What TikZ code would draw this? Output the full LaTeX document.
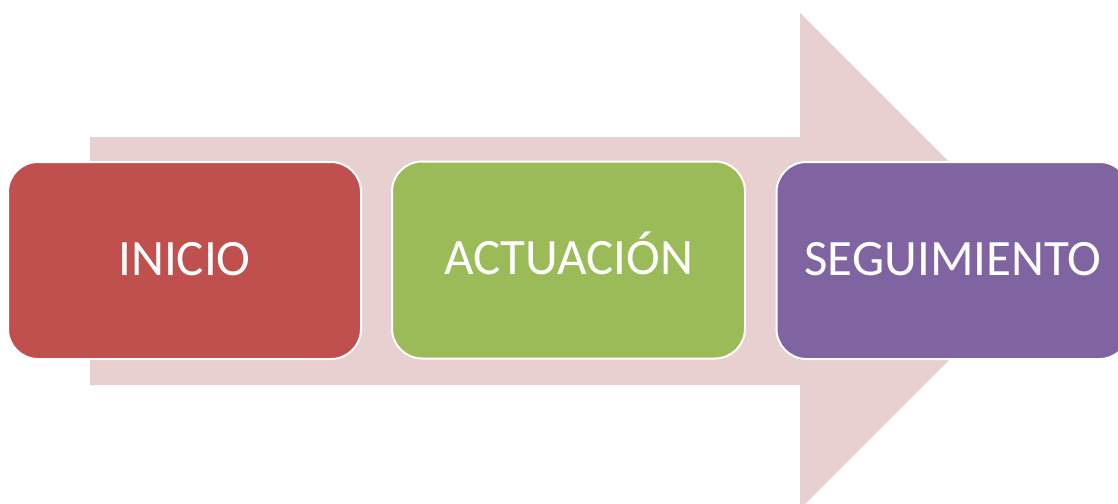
\documentclass[tikz,border=0pt]{standalone}
\usepackage{fontspec}
\setmainfont{Carlito}
\definecolor{arrowpink}{HTML}{E8D0D1}
\definecolor{boxred}{HTML}{C0504D}
\definecolor{boxgreen}{HTML}{9BBB59}
\definecolor{boxpurple}{HTML}{8064A2}
\tikzset{
  stagebox/.style={draw=white, line width=2pt, rounded corners=30pt, minimum width=353pt, minimum height=197pt, text=white, font=\fontsize{51}{60}\selectfont, inner sep=0pt, text height=35pt, text depth=6pt, anchor=center}
}
\begin{document}
\begin{tikzpicture}[x=1pt,y=-1pt]
\useasboundingbox (0,0) rectangle (1118,503);
\clip (0,0) rectangle (1118,503);
\fill[arrowpink] (90,137) -- (800,137) -- (800,13) -- (1048,261) -- (800,509) -- (800,385) -- (90,385) -- cycle;
\node[stagebox, fill=boxred] (inicio) at (184.5,260.5) {INICIO};
\node[stagebox, fill=boxgreen] (actuacion) at (568.5,260) {ACTUACIÓN};
\node[stagebox, fill=boxpurple] (seguimiento) at (953,260.5) {SEGUIMIENTO};
\end{tikzpicture}
\end{document}
